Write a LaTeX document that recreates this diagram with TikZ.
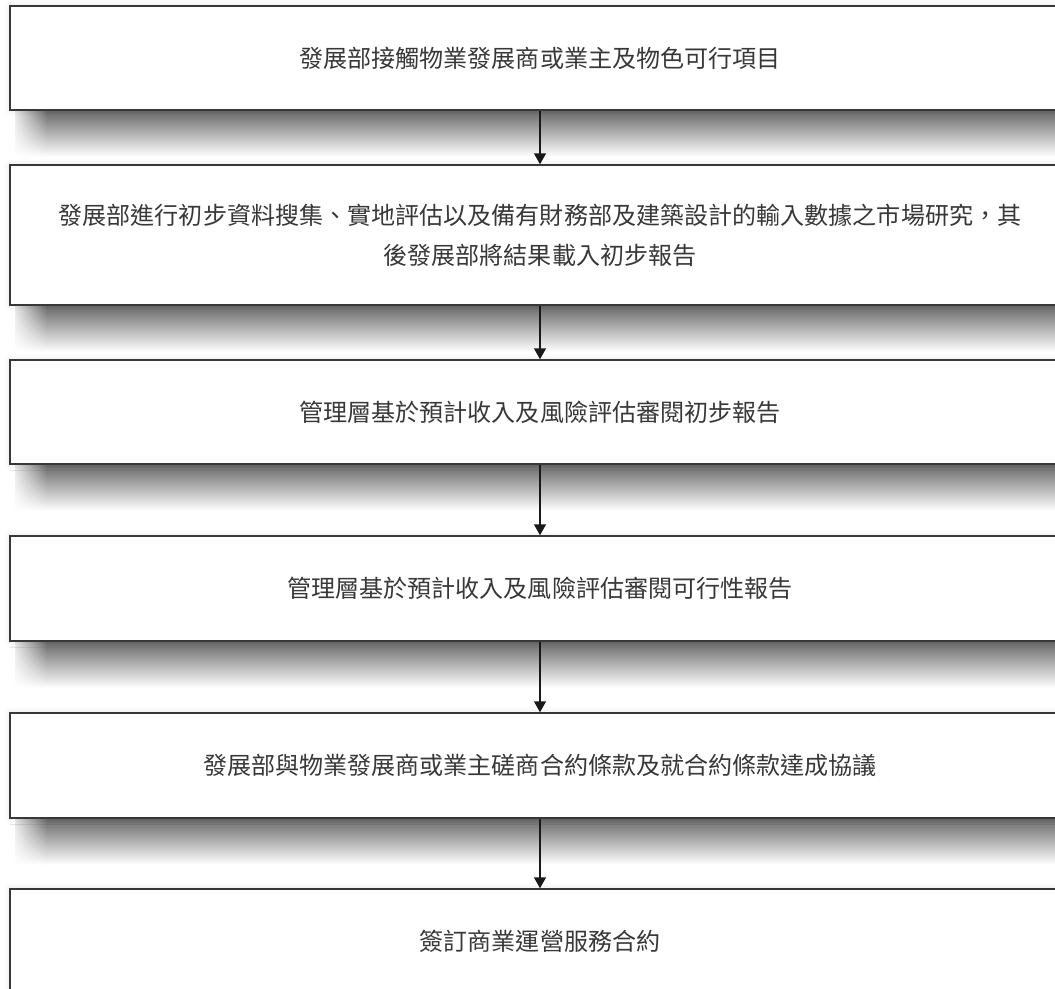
\documentclass[tikz,border=0pt]{standalone}
\usepackage{fontspec}
\newfontfamily\cjk{Noto Sans CJK TC}
\usetikzlibrary{
		arrows.meta,
		fadings,
		backgrounds,
		shadows.blur
	}
\tikzset{
		>={Triangle[width=0.24cm,length=0.22cm]},
		stepbox/.style={draw=black!78, line width=0.03cm, fill=white,
			minimum width=21.2cm, align=center, text=black!78,
			font=\cjk\fontsize{13.7pt}{22.8pt}\selectfont,
			blur shadow={shadow xshift=0pt, shadow yshift=0pt,
				shadow blur radius=0.12cm, shadow opacity=12}},
		flowarrow/.style={->, draw=black!90, line width=0.03cm}
	}
\tikzfading[name=shadefade, top color=transparent!5, middle color=transparent!62, bottom color=transparent!100]
\tikzfading[name=leftfade, left color=transparent!0, right color=transparent!100]

\begin{document}
\begin{tikzpicture}[x=0.02cm, y=-0.02cm]
		\useasboundingbox (0,0) rectangle (1055,988);
		\node[stepbox, minimum height=2.08cm] (b1) at (540,58) {發展部接觸物業發展商或業主及物色可行項目};
		\node[stepbox, minimum height=2.8cm] (b2) at (540,235) {發展部進行初步資料搜集、實地評估以及備有財務部及建築設計的輸入數據之市場研究，其\\後發展部將結果載入初步報告};
		\node[stepbox, minimum height=2.08cm] (b3) at (540,412) {管理層基於預計收入及風險評估審閱初步報告};
		\node[stepbox, minimum height=2.1cm] (b4) at (540,588.5) {管理層基於預計收入及風險評估審閱可行性報告};
		\node[stepbox, minimum height=2.1cm] (b5) at (540,765.5) {發展部與物業發展商或業主磋商合約條款及就合約條款達成協議};
		\node[stepbox, minimum height=2.08cm] (b6) at (540,941) {簽訂商業運營服務合約};
		\begin{scope}[on background layer]
			\foreach \b in {b1,b2,b3,b4,b5}{
				\fill[black!62, path fading=shadefade] ([xshift=0.12cm]\b.south west) rectangle ([yshift=-0.92cm]\b.south east);
				\fill[white, path fading=leftfade] (\b.south west) rectangle ([xshift=0.75cm,yshift=-0.95cm]\b.south west);
			}
		\end{scope}
		\foreach \a/\b in {b1/b2,b2/b3,b3/b4,b4/b5,b5/b6}
			\draw[flowarrow] (\a) -- (\b);
	\end{tikzpicture}
\end{document}
